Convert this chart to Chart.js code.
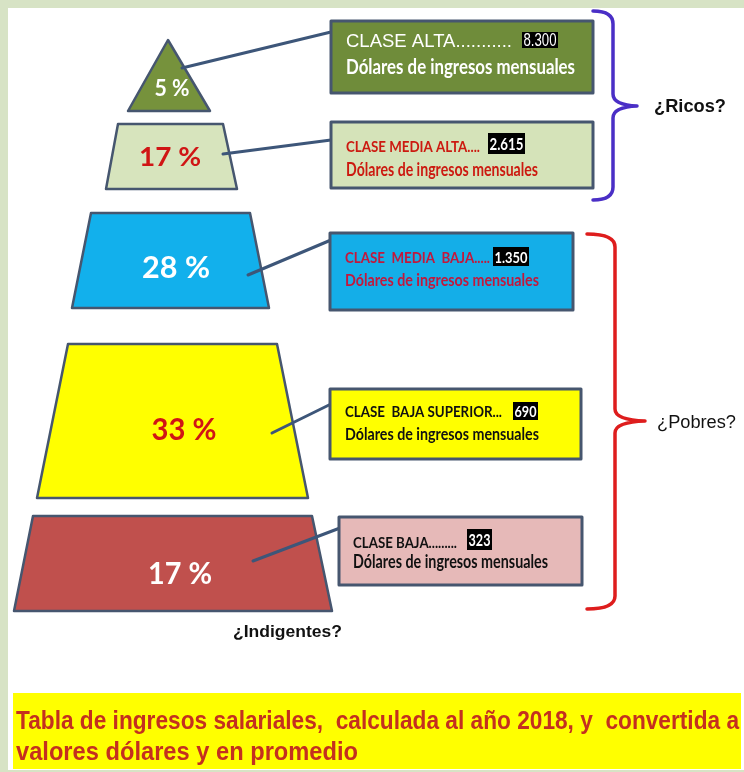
<!DOCTYPE html>
<html>
<head>
<meta charset="utf-8">
<style>
  html, body { margin: 0; padding: 0; background: #ffffff; }
  canvas { display: block; }
</style>
</head>
<body>
<canvas id="chart" width="744" height="772"></canvas>
<script src="https://cdn.jsdelivr.net/npm/chart.js@4/dist/chart.umd.min.js"></script>
<script>
// data
const classNames = ["CLASE ALTA...........", "CLASE MEDIA ALTA....", "CLASE  MEDIA  BAJA.....", "CLASE  BAJA SUPERIOR...", "CLASE BAJA........."];
const incomes = ["8.300", "2.615", "1.350", "690", "323"];
const shares = [5, 17, 28, 33, 17];
const unitLabel = "Dólares de ingresos mensuales";
const groupLabels = ["¿Ricos?", "¿Pobres?"];
const bottomLabel = "¿Indigentes?";
const footnote = ["Tabla de ingresos salariales,  calculada al año 2018, y  convertida a", "valores dólares y en promedio"];

// layout (in the 744 x 772 value space of the hidden axes)
// [top, bottom, topLeft, topRight, bottomLeft, bottomRight]
const tierShape = [
  [40, 111, 168, 168, 128, 210],
  [124, 189, 118, 223, 106, 237],
  [213, 308, 91, 250, 72, 269],
  [344, 498, 68, 277, 37, 308],
  [516, 611, 33, 312, 14, 332]
];
// [centerX, centerY, fontSize, width]
const shareLabelPos = [[172, 89, 22, 35], [170, 157, 27, 62], [176, 268, 31, 68], [184, 430, 31, 65], [180, 574, 31, 64]];
const boxRect = [[331, 21, 593, 93], [331, 122, 593, 188], [330, 233, 573, 310], [330, 389, 581, 459], [339, 517, 582, 585]];
// [x, line1 baseline, line1 width, line1 size, line2 baseline, line2 width, line2 size, income box]
const boxText = [
  [346, 47, 166, 18, 74, 229, 21, [522, 32, 558, 48]],
  [346, 152, 134, 16, 176, 192, 18, [488, 133, 525, 154]],
  [345, 263, 145, 15, 286, 194, 17, [493, 247, 529, 266]],
  [345, 417, 157, 15, 440, 194, 17, [513, 402, 538, 420]],
  [353, 548, 104, 16, 568, 195, 18, [467, 529, 492, 550]]
];
const connector = [[182, 68, 331, 32], [223, 154, 331, 140], [248, 275, 331, 240], [272, 433, 331, 404], [253, 561, 340, 528]];
// [topY, midY, bottomY, endX, spineX, tipX]
const bracket = [[11, 106, 200, 593, 613, 637], [234, 421, 609, 587, 615, 645]];
const groupLabelPos = [[654, 112, 72], [657, 428, 79]];

// styles
const tierFill = ["#76923c", "#d7e4bd", "#12b0ec", "#ffff00", "#c0504d"];
const shareColor = ["#ffffff", "#d01515", "#ffffff", "#d01515", "#ffffff"];
const boxFill = ["#6f8c3a", "#d5e3b9", "#14aee8", "#ffff00", "#e6b9b8"];
const boxInk = ["#ffffff", "#cc1a10", "#c2183c", "#111111", "#111111"];
const bracketColor = ["#4a2fc6", "#de1d1d"];
const edge = "#46566f";
const ARIAL = '"Liberation Sans", Arial, sans-serif';
const CALIBRI = 'Lato, "Open Sans", sans-serif';

function fitText(ctx, text, x, y, font, width, color, align, baseline) {
  ctx.save();
  ctx.font = font;
  const k = width / ctx.measureText(text).width;
  ctx.translate(x, y);
  ctx.scale(k, 1);
  ctx.textAlign = align || "left";
  ctx.textBaseline = baseline || "alphabetic";
  ctx.fillStyle = color;
  ctx.fillText(text, 0, 0);
  ctx.restore();
}

const infographic = {
  id: "infographic",
  beforeDraw(chart) {
    const ctx = chart.ctx;
    const X = v => chart.scales.x.getPixelForValue(v);
    const Y = v => chart.scales.y.getPixelForValue(v);

    // page frame
    ctx.save();
    ctx.fillStyle = "#d7e3c5";
    ctx.fillRect(0, 0, chart.width, chart.height);
    ctx.fillStyle = "#ffffff";
    ctx.fillRect(X(8), Y(8), X(744) - X(8), Y(770) - Y(8));
    ctx.restore();
  },
  afterDraw(chart) {
    const ctx = chart.ctx;
    const X = v => chart.scales.x.getPixelForValue(v);
    const Y = v => chart.scales.y.getPixelForValue(v);

    ctx.save();
    ctx.lineJoin = "round";
    ctx.lineCap = "round";

    // pyramid tiers with their connector lines
    shares.forEach((v, i) => {
      const t = tierShape[i];
      ctx.beginPath();
      ctx.moveTo(X(t[2]), Y(t[0]));
      if (t[3] !== t[2]) ctx.lineTo(X(t[3]), Y(t[0]));
      ctx.lineTo(X(t[5]), Y(t[1]));
      ctx.lineTo(X(t[4]), Y(t[1]));
      ctx.closePath();
      ctx.fillStyle = tierFill[i];
      ctx.fill();
      ctx.lineWidth = 2.5;
      ctx.strokeStyle = edge;
      ctx.stroke();

      const c = connector[i];
      ctx.beginPath();
      ctx.moveTo(X(c[0]), Y(c[1]));
      ctx.lineTo(X(c[2]), Y(c[3]));
      ctx.lineWidth = 3;
      ctx.strokeStyle = "#3d5679";
      ctx.stroke();

      const p = shareLabelPos[i];
      fitText(ctx, v + " %", X(p[0]), Y(p[1]), "bold " + p[2] + "px " + CALIBRI, p[3], shareColor[i], "center", "middle");
    });

    // class boxes
    classNames.forEach((name, i) => {
      const r = boxRect[i];
      ctx.fillStyle = boxFill[i];
      ctx.fillRect(X(r[0]), Y(r[1]), X(r[2]) - X(r[0]), Y(r[3]) - Y(r[1]));
      ctx.lineWidth = 3;
      ctx.strokeStyle = edge;
      ctx.strokeRect(X(r[0]), Y(r[1]), X(r[2]) - X(r[0]), Y(r[3]) - Y(r[1]));

      const t = boxText[i];
      const f1 = i === 0 ? t[3] + "px " + ARIAL : "bold " + t[3] + "px " + CALIBRI;
      fitText(ctx, name, X(t[0]), Y(t[1]), f1, t[2], boxInk[i]);
      fitText(ctx, unitLabel, X(t[0]), Y(t[4]), "bold " + t[6] + "px " + CALIBRI, t[5], boxInk[i]);

      const b = t[7];
      ctx.fillStyle = "#000000";
      ctx.fillRect(X(b[0]), Y(b[1]), X(b[2]) - X(b[0]), Y(b[3]) - Y(b[1]));
      const fi = i === 0 ? (t[3] + 1) + "px " + ARIAL : "bold " + (t[3] + 1) + "px " + CALIBRI;
      fitText(ctx, incomes[i], X((b[0] + b[2]) / 2), Y((b[1] + b[3]) / 2 + 1), fi, X(b[2]) - X(b[0]) - 3, "#ffffff", "center", "middle");
    });

    // brackets
    bracket.forEach((k, i) => {
      const [top, mid, bot, endX, spine, tip] = k;
      ctx.beginPath();
      ctx.moveTo(X(endX), Y(top));
      ctx.quadraticCurveTo(X(spine), Y(top), X(spine), Y(top + 13));
      ctx.lineTo(X(spine), Y(mid - 12));
      ctx.quadraticCurveTo(X(spine), Y(mid - 1), X(tip), Y(mid));
      ctx.quadraticCurveTo(X(spine), Y(mid + 1), X(spine), Y(mid + 12));
      ctx.lineTo(X(spine), Y(bot - 13));
      ctx.quadraticCurveTo(X(spine), Y(bot), X(endX), Y(bot));
      ctx.strokeStyle = bracketColor[i];
      ctx.lineWidth = 3.5;
      ctx.stroke();
      const g = groupLabelPos[i];
      fitText(ctx, groupLabels[i], X(g[0]), Y(g[1]), (i === 0 ? "bold " : "") + "18px " + ARIAL, g[2], "#111111");
    });

    fitText(ctx, bottomLabel, X(233), Y(637), "bold 17px " + ARIAL, 109, "#111111");

    // footnote banner
    ctx.fillStyle = "#ffff00";
    ctx.fillRect(X(13), Y(693), X(741) - X(13), Y(769) - Y(693));
    fitText(ctx, footnote[0], X(16), Y(729), "bold 26px " + ARIAL, 723, "#c4301f");
    fitText(ctx, footnote[1], X(16), Y(760), "bold 26px " + ARIAL, 342, "#c4301f");

    ctx.restore();
  }
};

new Chart(document.getElementById("chart"), {
  type: "scatter",
  data: { datasets: [{ label: "Población (%)", data: [] }] },
  options: {
    responsive: false,
    animation: false,
    layout: { padding: 0 },
    scales: {
      x: { type: "linear", min: 0, max: 744, display: false },
      y: { type: "linear", min: 0, max: 772, reverse: true, display: false }
    },
    plugins: { legend: { display: false }, tooltip: { enabled: false } }
  },
  plugins: [infographic]
});
</script>
</body>
</html>
